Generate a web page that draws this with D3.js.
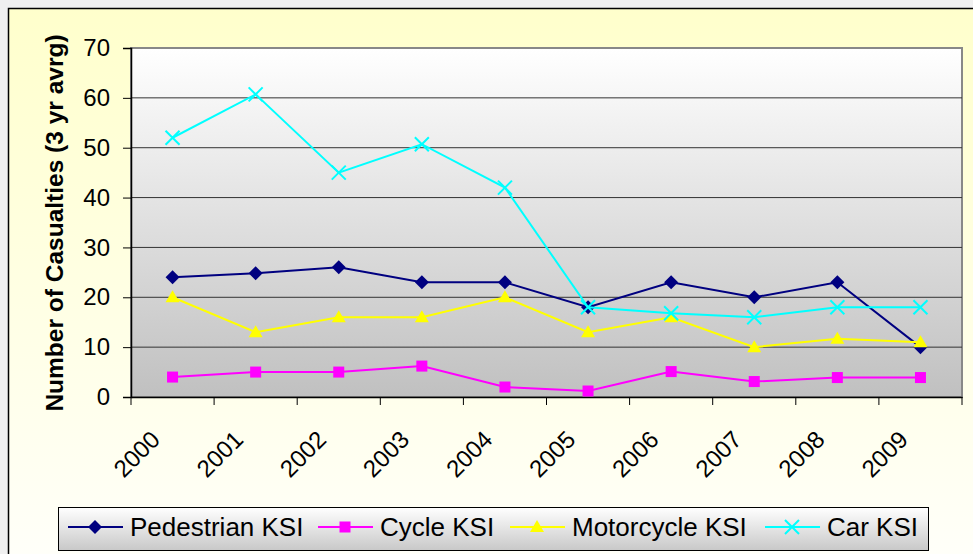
<!DOCTYPE html>
<html>
<head>
<meta charset="utf-8">
<script src="https://cdn.jsdelivr.net/npm/d3@7"></script>
<style>
  html, body { margin: 0; padding: 0; background: #f0f0f0; }
  svg { display: block; font-family: "Liberation Sans", Arial, sans-serif; }
</style>
</head>
<body>
<div id="chart"></div>
<script>
var width = 973;
var height = 554;

var years = ["2000","2001","2002","2003","2004","2005","2006","2007","2008","2009"];
var pedestrian = [24, 24.8, 26, 23, 23, 18, 23, 20, 23, 10];
var cycle = [4, 5, 5, 6.2, 2, 1.2, 5.1, 3.1, 3.9, 3.9];
var motorcycle = [20, 13, 16, 16, 20, 13, 16, 10, 11.7, 11];
var car = [52, 60.7, 45, 50.7, 42, 18, 16.8, 16, 18, 18];
var yTicks = [0, 10, 20, 30, 40, 50, 60, 70];

var series = [
    {name: "Pedestrian KSI", values: pedestrian, color: "#000080", marker: "diamond"},
    {name: "Cycle KSI", values: cycle, color: "#ff00ff", marker: "square"},
    {name: "Motorcycle KSI", values: motorcycle, color: "#ffff00", marker: "triangle"},
    {name: "Car KSI", values: car, color: "#00ffff", marker: "cross"}
];

var plot = {left: 131, top: 48, right: 962, bottom: 397};

var svg = d3.select("#chart").append("svg")
    .attr("width", width)
    .attr("height", height);

var defs = svg.append("defs");
var bgGrad = defs.append("linearGradient").attr("id", "bg")
    .attr("x1", 0).attr("y1", 0).attr("x2", 0).attr("y2", 1);
bgGrad.append("stop").attr("offset", "0%").attr("stop-color", "#ffffcc");
bgGrad.append("stop").attr("offset", "100%").attr("stop-color", "#fffffa");

var plotGrad = defs.append("linearGradient").attr("id", "plotbg")
    .attr("x1", 0).attr("y1", 0).attr("x2", 0).attr("y2", 1);
plotGrad.append("stop").attr("offset", "0%").attr("stop-color", "#ffffff");
plotGrad.append("stop").attr("offset", "100%").attr("stop-color", "#c0c0c0");

var legGrad = defs.append("linearGradient").attr("id", "legbg")
    .attr("x1", 0).attr("y1", 0).attr("x2", 0).attr("y2", 1);
legGrad.append("stop").attr("offset", "0%").attr("stop-color", "#ffffff");
legGrad.append("stop").attr("offset", "100%").attr("stop-color", "#c8c8c8");

// chart frame
svg.append("rect")
    .attr("x", 8.5).attr("y", 8.5)
    .attr("width", 980).attr("height", 560)
    .attr("fill", "url(#bg)")
    .attr("stroke", "#000").attr("stroke-width", 1.5);

var x = d3.scaleBand().domain(years).range([plot.left, plot.right]);
var y = d3.scaleLinear().domain([0, 70]).range([plot.bottom, plot.top]);

svg.append("rect")
    .attr("x", plot.left).attr("y", plot.top)
    .attr("width", plot.right - plot.left).attr("height", plot.bottom - plot.top)
    .attr("fill", "url(#plotbg)")
    .attr("stroke", "#888").attr("stroke-width", 2);

// gridlines
svg.append("g")
    .selectAll("line")
    .data(yTicks.filter(d => d > 0 && d < 70))
    .join("line")
    .attr("x1", plot.left).attr("x2", plot.right)
    .attr("y1", d => y(d)).attr("y2", d => y(d))
    .attr("stroke", "#333").attr("stroke-width", 1);

// y axis
var yAxis = svg.append("g")
    .attr("transform", `translate(${plot.left},0)`)
    .call(d3.axisLeft(y).tickValues(yTicks).tickSize(8).tickPadding(13));
yAxis.select(".domain").attr("stroke", "#000").attr("stroke-width", 1.5);
yAxis.selectAll(".tick line").attr("stroke", "#000");
yAxis.selectAll(".tick text")
    .attr("font-size", 24).attr("fill", "#000")
    .attr("font-family", "Liberation Sans, Arial, sans-serif");

// x axis
var xAxis = svg.append("g")
    .attr("transform", `translate(0,${plot.bottom})`)
    .call(d3.axisBottom(x).tickSize(0).tickFormat(""));
xAxis.select(".domain").attr("stroke", "#000").attr("stroke-width", 1.5);

var bounds = years.map(d => x(d)).concat([plot.right]);
svg.append("g")
    .selectAll("line")
    .data(bounds)
    .join("line")
    .attr("x1", d => d).attr("x2", d => d)
    .attr("y1", plot.bottom).attr("y2", plot.bottom + 8)
    .attr("stroke", "#000").attr("stroke-width", 1);

svg.append("g")
    .selectAll("text")
    .data(years)
    .join("text")
    .attr("transform", d => `translate(${x(d) + x.bandwidth() / 2 - 17},${plot.bottom + 38}) rotate(-45)`)
    .attr("text-anchor", "end")
    .attr("dy", "0.35em")
    .attr("font-size", 24)
    .text(d => d);

// y axis title
svg.append("text")
    .attr("transform", `translate(54,223) rotate(-90)`)
    .attr("text-anchor", "middle")
    .attr("dy", "0.35em")
    .attr("font-size", 24.5)
    .attr("font-weight", "bold")
    .text("Number of Casualties (3 yr avrg)");

function drawMarker(g, type, color) {
    if (type === "diamond") {
        g.append("path").attr("d", "M0,-7L7,0L0,7L-7,0Z").attr("fill", color);
    } else if (type === "square") {
        g.append("rect").attr("x", -5.5).attr("y", -5.5).attr("width", 11).attr("height", 11).attr("fill", color);
    } else if (type === "triangle") {
        g.append("path").attr("d", "M0,-7L7,5L-7,5Z").attr("fill", color);
    } else {
        g.append("path").attr("d", "M-7,-7L7,7M7,-7L-7,7")
            .attr("stroke", color).attr("stroke-width", 2).attr("fill", "none");
    }
}

var line = d3.line()
    .x((d, i) => x(years[i]) + x.bandwidth() / 2)
    .y(d => y(d));

series.forEach(function(s) {
    var g = svg.append("g");
    g.append("path")
        .attr("d", line(s.values))
        .attr("fill", "none")
        .attr("stroke", s.color)
        .attr("stroke-width", 2);
    s.values.forEach(function(v, i) {
        var m = g.append("g")
            .attr("transform", `translate(${x(years[i]) + x.bandwidth() / 2},${y(v)})`);
        drawMarker(m, s.marker, s.color);
    });
});

// legend
var legend = svg.append("g");
legend.append("rect")
    .attr("x", 58.5).attr("y", 507.5)
    .attr("width", 870).attr("height", 43)
    .attr("fill", "url(#legbg)")
    .attr("stroke", "#000").attr("stroke-width", 1);

var legX = [68, 318, 510, 765];
series.forEach(function(s, i) {
    var g = legend.append("g").attr("transform", `translate(${legX[i]},527)`);
    g.append("line").attr("x1", 0).attr("x2", 55).attr("y1", 0).attr("y2", 0)
        .attr("stroke", s.color).attr("stroke-width", 2);
    var m = g.append("g").attr("transform", "translate(27,0)");
    drawMarker(m, s.marker, s.color);
    g.append("text")
        .attr("x", 62).attr("y", 0).attr("dy", "0.35em")
        .attr("font-size", 26)
        .text(s.name);
});
</script>
</body>
</html>
